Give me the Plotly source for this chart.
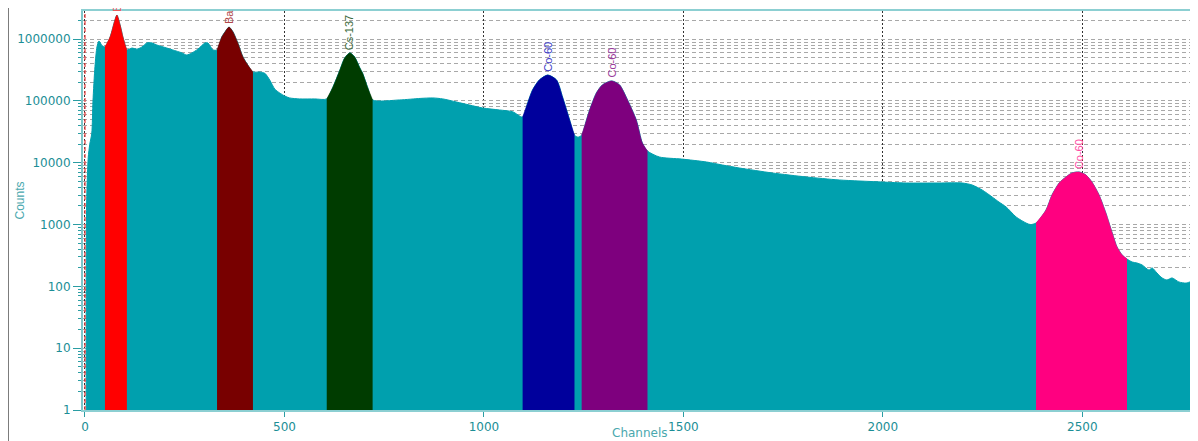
import numpy as np
import plotly.graph_objects as go

# ---------------- data ----------------
channels = [3, 4, 8, 12, 17, 20, 25, 30, 35, 42,
            50, 63, 75, 80, 88, 95, 103, 105,
            118, 130, 143, 155, 168, 180, 205, 220, 243, 255, 268, 283, 301, 308, 321,
            331, 343, 351, 361, 371, 383, 396, 408, 421,
            438, 451, 463, 476, 488, 501, 513, 538, 576,
            606, 621, 639, 651, 664, 676, 689, 696, 709, 721,
            789, 840, 872, 897, 932, 964, 997, 1039, 1072,
            1097, 1110, 1122, 1139, 1160, 1182, 1197, 1215, 1227,
            1236,
            1245, 1257, 1265, 1282, 1297, 1320, 1340, 1360, 1382, 1397, 1410,
            1440, 1495, 1558, 1598, 1640, 1723, 1808, 1891, 1998, 2059, 2141, 2199,
            2224, 2249, 2274, 2291, 2309, 2334, 2359, 2370,
            2384, 2409, 2424, 2442, 2459, 2474, 2492, 2509, 2524, 2542, 2559, 2575,
            2587, 2600, 2612,
            2625, 2637, 2650, 2667, 2675, 2687, 2700, 2712, 2725, 2742, 2760, 2772,
            2787, 2795]

counts = [1, 2000, 12000, 20000, 30000, 100000, 360000, 750000, 935000, 800000,
          750000, 1090000, 2040000, 2460000, 1700000, 1090000, 720000, 670000,
          720000, 690000, 750000, 870000, 870000, 805000, 720000, 670000, 600000,
          555000, 600000, 690000, 870000, 870000, 670000,
          670000, 1090000, 1310000, 1570000, 1310000, 870000, 515000, 382000, 295000,
          295000, 280000, 219000, 155000, 135000, 120000, 112000, 108000, 108000,
          108000, 165000, 318000, 497000, 600000, 515000, 342000, 280000, 162000, 104000,
          104000, 110000, 112000, 108000, 96000, 86000, 77000, 71500, 67000,
          55000, 94000, 151000, 219000, 263000, 219000, 116000, 49000, 28000,
          26000,
          28000, 49000, 71500, 135000, 182000, 211000, 182000, 104000, 49000, 21000, 15500,
          12400, 11500, 10300, 9200, 8240, 6840, 5900, 5270, 4890, 4710, 4710, 4710,
          4370, 3630, 2800, 2320, 1930, 1330, 1060, 1000,
          1060, 1720, 3010, 4710, 5900, 6840, 7100, 6350, 4890, 3010, 1540, 731,
          434, 322, 277,
          248, 239, 222, 184, 199, 165, 137, 127, 137, 118, 113, 118,
          98, 100]

roi_names = ["Ba", "Ba", "Cs-137", "Co-60", "Co-60", "Co-60"]
roi_start = [50, 331, 606, 1097, 1245, 2384]
roi_end = [105, 421, 721, 1227, 1410, 2612]
roi_colors = ["#FF0000", "#780000", "#003C00", "#00009C", "#7E007E", "#FF0080"]
label_colors = ["#E85A5A", "#B04848", "#3C6A3C", "#4040C8", "#9A3A9A", "#FF4DA6"]

x_tick_values = [0, 500, 1000, 1500, 2000, 2500]
y_tick_values = [1, 10, 100, 1000, 10000, 100000, 1000000]
y_tick_labels = ["1", "10", "100", "1000", "10000", "100000", "1000000"]
y_minor_values = [m * 10 ** d for d in range(0, 7) for m in range(2, 10) if m * 10 ** d < 2.9e6]

marker_channel = 0

# ---------------- styling ----------------
TEAL = "#00A0AE"
AXIS_TEAL = "#2A9DA3"
TEXT_TEAL = "#1C8E96"
SMOOTH = 0.7

ch = np.array(channels)
ct = np.array(counts)

fig = go.Figure()
fig.add_trace(go.Scatter(x=ch, y=ct, mode="lines", fill="tozeroy",
                         line=dict(color=TEAL, width=1, shape="spline", smoothing=SMOOTH),
                         fillcolor=TEAL, hoverinfo="skip", showlegend=False))

annotations = []
for name, s, e, col, lcol in zip(roi_names, roi_start, roi_end, roi_colors, label_colors):
    mask = (ch >= s) & (ch <= e)
    fig.add_trace(go.Scatter(x=ch[mask], y=ct[mask], mode="lines", fill="tozeroy",
                             line=dict(color=col, width=0.5, shape="spline", smoothing=SMOOTH),
                             fillcolor=col, hoverinfo="skip", showlegend=False))
    i = int(np.argmax(ct[mask]))
    annotations.append(dict(x=ch[mask][i], y=np.log10(ct[mask][i]), xref="x", yref="y",
                            text=name, showarrow=False, textangle=-90,
                            xanchor="center", yanchor="bottom", yshift=1,
                            font=dict(family="Liberation Sans, Arial", size=11, color=lcol)))

annotations.append(dict(x=-0.0565, y=0.525, xref="paper", yref="paper", text="Counts",
                        showarrow=False, textangle=-90, xanchor="center", yanchor="middle",
                        font=dict(family="Liberation Sans Narrow, Liberation Sans, Arial",
                                  size=12, color="#4AA8AE")))
annotations.append(dict(x=0.4996, y=-0.058, xref="paper", yref="paper", text="Channels",
                        showarrow=False, xanchor="center", yanchor="middle",
                        font=dict(family="DejaVu Sans, Arial", size=12, color="#4AA8AE")))

shapes = [
    dict(type="line", xref="x", yref="paper", x0=marker_channel, x1=marker_channel, y0=0, y1=1,
         line=dict(color="rgba(235,70,70,0.85)", width=1.5, dash="4px,3px")),
    dict(type="line", xref="paper", yref="paper", x0=-0.0673, x1=-0.0673, y0=-0.08, y1=1.01,
         line=dict(color="#777777", width=2)),
]

# the page body adds an 8px offset, so the figure is 8px smaller than the window
fig.update_layout(
    width=1190, height=433,
    margin=dict(l=75, r=0, t=3, b=31),
    paper_bgcolor="white", plot_bgcolor="white",
    showlegend=False,
    annotations=annotations,
    shapes=shapes,
    xaxis=dict(range=[-5, 2790], tickvals=x_tick_values, ticks="outside", ticklen=5,
               tickcolor=AXIS_TEAL, tickwidth=1,
               tickfont=dict(family="DejaVu Sans, Arial", size=12, color=TEXT_TEAL),
               showline=True, linecolor="#8CCFD2", linewidth=2, mirror=True,
               showgrid=True, gridcolor="#333333", griddash="2px,2px", gridwidth=1,
               zeroline=False),
    yaxis=dict(type="log", range=[0, 6.456], tickvals=y_tick_values, ticktext=y_tick_labels,
               ticks="outside", ticklen=8, tickcolor=AXIS_TEAL, tickwidth=1,
               tickfont=dict(family="DejaVu Sans, Arial", size=12, color=TEXT_TEAL),
               showline=True, linecolor="#7CC6CA", linewidth=2,
               showgrid=True, gridcolor="#A8A8A8", griddash="4px,3px", gridwidth=1,
               zeroline=False,
               minor=dict(tickvals=y_minor_values, showgrid=True, gridcolor="#A8A8A8",
                          griddash="4px,3px", gridwidth=1, ticks="outside", ticklen=3,
                          tickcolor=AXIS_TEAL)),
)

fig.write_html("out.html")
